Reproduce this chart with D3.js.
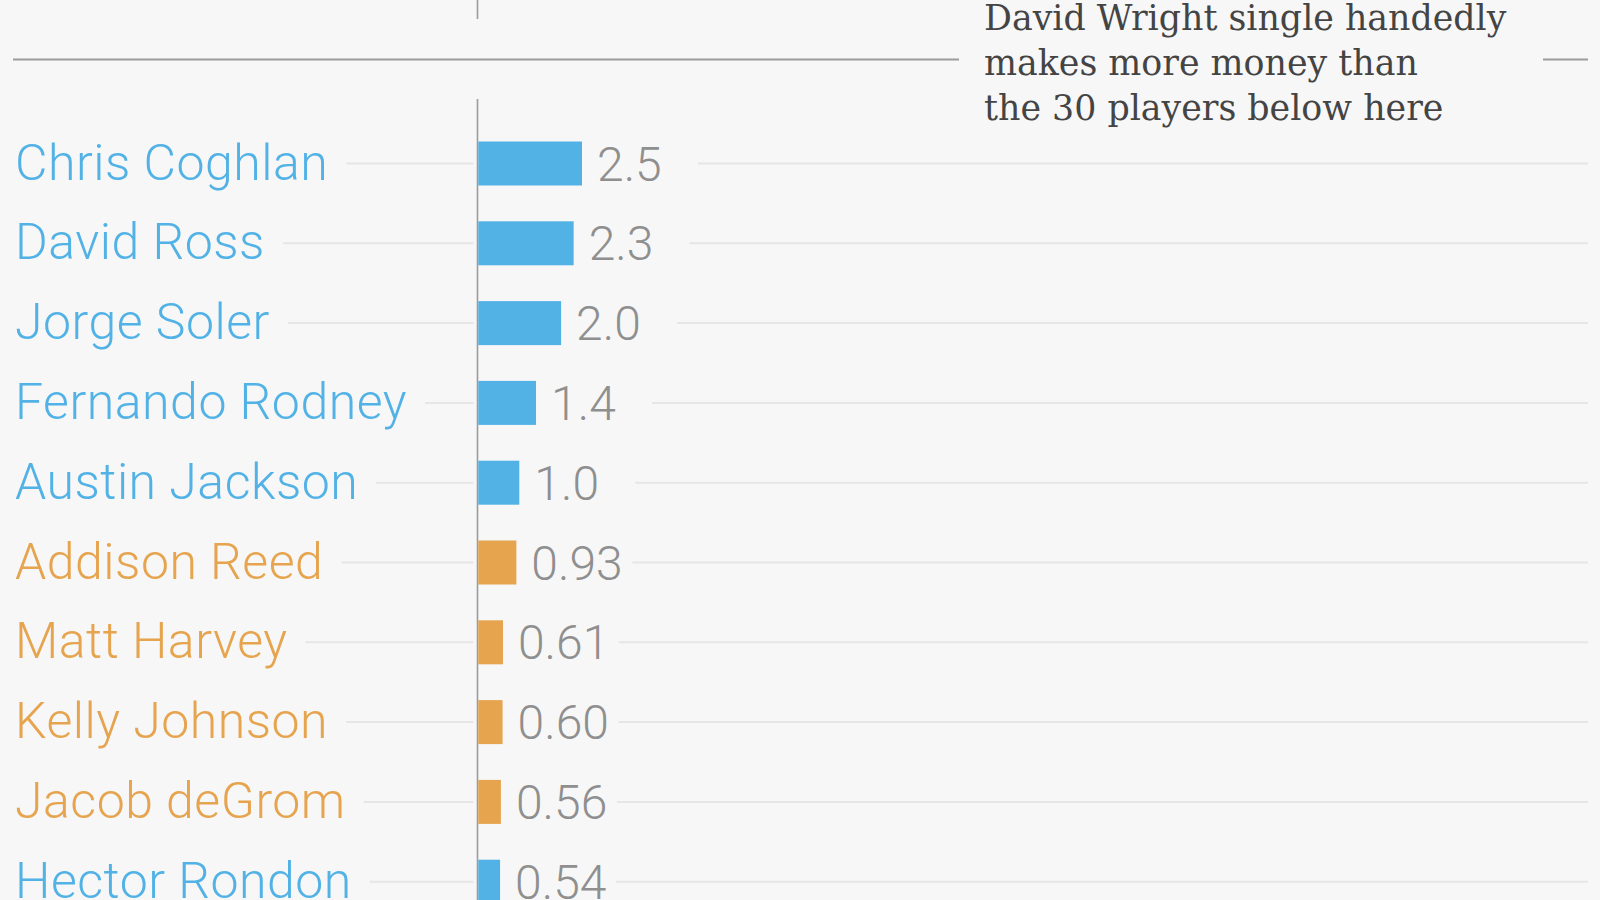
<!DOCTYPE html>
<html>
<head>
<meta charset="utf-8">
<script src="https://cdn.jsdelivr.net/npm/d3@7"></script>
<style>
  html, body { margin: 0; padding: 0; background: #f7f7f7; }
  svg { display: block; }
</style>
</head>
<body>
<svg id="chart" width="1600" height="900"></svg>
<script>
// ---- data ----
const players = ["Chris Coghlan", "David Ross", "Jorge Soler", "Fernando Rodney", "Austin Jackson",
                 "Addison Reed", "Matt Harvey", "Kelly Johnson", "Jacob deGrom", "Hector Rondon"];
const salaries = [2.5, 2.3, 2.0, 1.4, 1.0, 0.93, 0.61, 0.60, 0.56, 0.54];
const valueLabels = ["2.5", "2.3", "2.0", "1.4", "1.0", "0.93", "0.61", "0.60", "0.56", "0.54"];
const teams = ["Cubs", "Cubs", "Cubs", "Cubs", "Cubs", "Mets", "Mets", "Mets", "Mets", "Cubs"];
const annotationLines = ["David Wright single handedly", "makes more money than", "the 30 players below here"];

const teamColor = d3.scaleOrdinal().domain(["Cubs", "Mets"]).range(["#52b2e6", "#e6a44f"]);

const svg = d3.select("#chart");
const W = 1600, H = 900;
const axisX = 477.5;
const step = 79.8;
const firstCenter = 163.5;

const x = d3.scaleLinear().domain([0, 10]).range([axisX, axisX + 418]);
const y = d3.scaleBand()
  .domain(players)
  .range([firstCenter - step / 2, firstCenter - step / 2 + step * players.length])
  .paddingInner(1 - 44 / step)
  .paddingOuter((1 - 44 / step) / 2);

const font = "Roboto, 'Open Sans', sans-serif";

// annotation separator line
svg.append("line").attr("x1", 13).attr("x2", 959).attr("y1", 59.5).attr("y2", 59.5)
  .attr("stroke", "#9c9c9c").attr("stroke-width", 2);
svg.append("line").attr("x1", 1543).attr("x2", 1588).attr("y1", 59.5).attr("y2", 59.5)
  .attr("stroke", "#9c9c9c").attr("stroke-width", 2);

// annotation text
const ann = svg.append("text")
  .attr("x", 984)
  .attr("font-family", "'DejaVu Serif', serif")
  .attr("font-size", 34.8)
  .attr("fill", "#444444");
annotationLines.forEach((t, i) => {
  ann.append("tspan").attr("x", 984).attr("y", 29.5 + i * 45).text(t);
});

// axis stub at top and main axis
svg.append("line").attr("x1", axisX).attr("x2", axisX).attr("y1", 0).attr("y2", 19)
  .attr("stroke", "#9c9c9c").attr("stroke-width", 1.6);
svg.append("line").attr("x1", axisX).attr("x2", axisX).attr("y1", 99).attr("y2", H)
  .attr("stroke", "#9c9c9c").attr("stroke-width", 1.6);

const rows = svg.append("g").selectAll("g.row")
  .data(players.map((p, i) => ({ name: p, v: salaries[i], label: valueLabels[i], team: teams[i] })))
  .join("g").attr("class", "row");

const cy = d => y(d.name) + y.bandwidth() / 2;

// name labels
const names = rows.append("text")
  .attr("class", "name")
  .attr("x", 15)
  .attr("y", d => cy(d) + 16)
  .attr("font-family", font)
  .attr("font-weight", 300)
  .attr("font-size", 50)
  .attr("letter-spacing", 0.5)
  .attr("fill", d => teamColor(d.team))
  .text(d => d.name);

// gridlines (left: after name, right: after value label)
rows.each(function (d) {
  const g = d3.select(this);
  const tw = g.select("text.name").node().getComputedTextLength();
  g.insert("line", ":first-child")
    .attr("x1", 15 + tw + 18).attr("x2", axisX - 4)
    .attr("y1", cy(d)).attr("y2", cy(d))
    .attr("stroke", "#e6e6e6").attr("stroke-width", 2);
  g.insert("line", ":first-child")
    .attr("x1", x(d.v) + 116).attr("x2", 1588)
    .attr("y1", cy(d)).attr("y2", cy(d))
    .attr("stroke", "#e6e6e6").attr("stroke-width", 2);
});

// bars
rows.append("rect")
  .attr("x", x(0) + 0.8)
  .attr("y", d => y(d.name))
  .attr("width", d => x(d.v) - x(0) - 0.8)
  .attr("height", y.bandwidth())
  .attr("fill", d => teamColor(d.team));

// value labels
rows.append("text")
  .attr("x", d => x(d.v) + 15)
  .attr("y", d => cy(d) + 17)
  .attr("font-family", font)
  .attr("font-weight", 300)
  .attr("font-size", 48)
  .attr("fill", "#8f8f8f")
  .text(d => d.label);
</script>
</body>
</html>
